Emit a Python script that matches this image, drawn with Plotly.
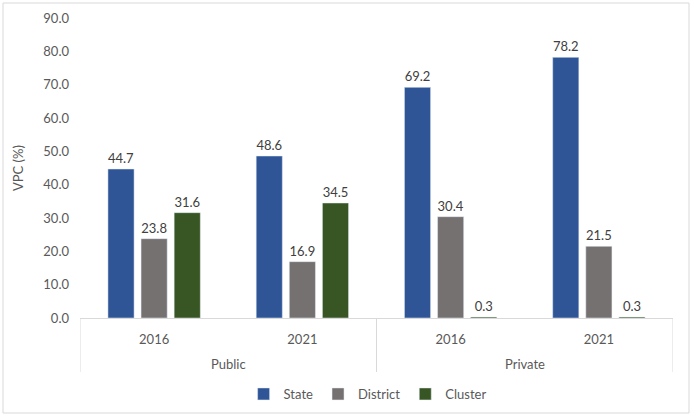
import plotly.graph_objects as go

sectors = ["Public", "Public", "Private", "Private"]
years = ["2016", "2021", "2016", "2021"]
state = [44.7, 48.6, 69.2, 78.2]
district = [23.8, 16.9, 30.4, 21.5]
cluster = [31.6, 34.5, 0.3, 0.3]

series = [("State", state, "#2F5597"), ("District", district, "#767171"), ("Cluster", cluster, "#375623")]
xcat = [f"{s} {y}" for s, y in zip(sectors, years)]

fig = go.Figure()
for name, vals, col in series:
    fig.add_trace(go.Bar(
        name=name, x=xcat, y=vals, marker_color=col,
        text=[f"{v:.1f}" for v in vals], textposition="outside",
        textfont=dict(size=13, color="#404040"), cliponaxis=False,
    ))

L, R, T, B = 80, 19, 18, 98
W, H = 692, 416
pw, ph = W - L - R, H - T - B
base = T + ph

def py(pix):
    return (base - pix) / ph

# group labels and dividers
groups = []
for i, s in enumerate(sectors):
    if not groups or groups[-1][0] != s:
        groups.append([s, i, i])
    else:
        groups[-1][2] = i

annotations = []
shapes = []
edges = set()
for s, i0, i1 in groups:
    annotations.append(dict(x=(i0 + i1) / 2, xref="x", y=py(364), yref="paper",
                            text=s, showarrow=False, yanchor="middle",
                            font=dict(size=13, color="#595959")))
    edges.add(i0 - 0.5)
    edges.add(i1 + 0.5)
for e in sorted(edges):
    shapes.append(dict(type="line", xref="x", yref="paper", x0=e, x1=e, y0=0, y1=py(372),
                       line=dict(color="#D9D9D9", width=1)))

shapes.append(dict(type="rect", xref="paper", yref="paper",
                   x0=(3 - L) / pw, x1=(689 - L) / pw, y0=py(413), y1=py(3),
                   line=dict(color="#D9D9D9", width=1), layer="below"))

fig.update_layout(
    width=W, height=H, margin=dict(l=L, r=R, t=T, b=B, autoexpand=False),
    paper_bgcolor="white", plot_bgcolor="white",
    font=dict(family="Lato, Carlito, sans-serif", size=13, color="#595959"),
    barmode="group", bargap=0.33, bargroupgap=0.21,
    showlegend=True,
    legend=dict(orientation="h", x=0.485, xanchor="center", y=py(394), yanchor="middle",
                font=dict(size=13, color="#595959"), itemwidth=30, entrywidth=0),
    xaxis=dict(type="category", showline=True, linecolor="#D9D9D9", linewidth=1,
               tickvals=xcat, ticktext=years, ticks="", ticklabelstandoff=9,
               range=[-0.5, len(xcat) - 0.5], automargin=False,
               tickfont=dict(size=13, color="#595959")),
    yaxis=dict(range=[0, 90], dtick=10, tickformat=".1f", showgrid=False, zeroline=False,
               showline=False, ticks="", ticklabelstandoff=10, automargin=False,
               tickfont=dict(size=13, color="#595959"),
               title=dict(text="VPC (%)", font=dict(size=13, color="#595959"), standoff=16)),
    annotations=annotations,
    shapes=shapes,
)
fig.write_html("out.html")
